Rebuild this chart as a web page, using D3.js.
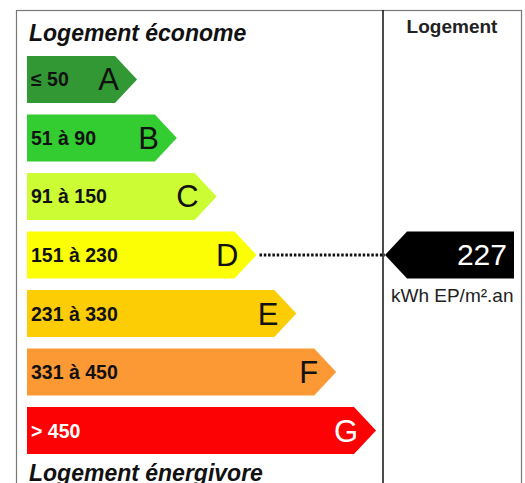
<!DOCTYPE html>
<html lang="fr">
<head>
    <meta charset="utf-8">
    <title>DPE</title>
    <script src="https://d3js.org/d3.v7.min.js"></script>
    <style>
        body { margin: 0; background: #fff; }
        svg text { font-family: "Liberation Sans", Arial, sans-serif; }
    </style>
</head>
<body>
<div id="chart"></div>
<script>
    // Energy classes, their ranges and colours
    const classes = ["A", "B", "C", "D", "E", "F", "G"];
    const ranges = ["≤ 50", "51 à 90", "91 à 150", "151 à 230", "231 à 330", "331 à 450", "> 450"];
    const upperBounds = [50, 90, 150, 230, 330, 450, Infinity];
    const colors = ["#319834", "#33cc31", "#ccfc34", "#fcfe06", "#fccc05", "#fc9935", "#fc0205"];
    const textColors = ["#111", "#111", "#111", "#111", "#111", "#111", "#fff"];

    // Dwelling value
    const value = 227;
    const unit = "kWh EP/m².an";

    const width = 525, height = 483;

    const svg = d3.select("#chart")
        .append("svg")
        .attr("width", width)
        .attr("height", height);

    // y band per class
    const y = d3.scaleBand()
        .domain(classes)
        .range([56, 454])
        .paddingInner(0.197)
        .paddingOuter(0);

    // x position of the arrow tip per class index
    const x = d3.scaleLinear()
        .domain([0, classes.length - 1])
        .range([137, 376]);

    const left = 27, head = 22;

    // frame
    svg.append("rect")
        .attr("x", 16.5).attr("y", 10.5)
        .attr("width", 505).attr("height", 520)
        .attr("fill", "none")
        .attr("stroke", "#777")
        .attr("stroke-width", 1.2);

    svg.append("line")
        .attr("x1", 383).attr("x2", 383)
        .attr("y1", 10).attr("y2", height)
        .attr("stroke", "#111")
        .attr("stroke-width", 1.5);

    // titles
    svg.append("text")
        .attr("x", 29).attr("y", 41)
        .attr("font-size", 23)
        .attr("font-weight", "bold")
        .attr("font-style", "italic")
        .attr("fill", "#111")
        .text("Logement économe");

    svg.append("text")
        .attr("x", 29).attr("y", y("G") + y.bandwidth() + 27)
        .attr("font-size", 23)
        .attr("font-weight", "bold")
        .attr("font-style", "italic")
        .attr("fill", "#111")
        .text("Logement énergivore");

    svg.append("text")
        .attr("x", 452).attr("y", 33)
        .attr("text-anchor", "middle")
        .attr("font-size", 19)
        .attr("font-weight", "bold")
        .attr("fill", "#222")
        .text("Logement");

    const arrowPath = (x0, tip, top, h) => {
        const mid = top + h / 2;
        return `M${x0},${top}H${tip - head}L${tip},${mid}L${tip - head},${top + h}H${x0}Z`;
    };

    const bars = svg.append("g")
        .selectAll("g")
        .data(classes)
        .join("g");

    bars.append("path")
        .attr("d", (d, i) => arrowPath(left, x(i), y(d), y.bandwidth()))
        .attr("fill", (d, i) => colors[i]);

    bars.append("text")
        .attr("x", 31)
        .attr("y", d => y(d) + y.bandwidth() / 2 + 7)
        .attr("font-size", 19.5)
        .attr("font-weight", "bold")
        .attr("fill", (d, i) => textColors[i])
        .text((d, i) => ranges[i]);

    bars.append("text")
        .attr("x", (d, i) => x(i) - 18)
        .attr("y", d => y(d) + y.bandwidth() / 2 + 11)
        .attr("text-anchor", "end")
        .attr("font-size", 31)
        .attr("fill", (d, i) => textColors[i])
        .text(d => d);

    // class of the dwelling
    const idx = upperBounds.findIndex(b => value <= b);
    const cls = classes[idx];
    const cy = y(cls) + y.bandwidth() / 2;
    const valTip = 385;

    svg.append("line")
        .attr("x1", x(idx) + 3).attr("x2", valTip)
        .attr("y1", cy).attr("y2", cy)
        .attr("stroke", "#111")
        .attr("stroke-width", 3)
        .attr("stroke-dasharray", "2.5,1.8");

    svg.append("path")
        .attr("d", `M${valTip},${cy}L${valTip + head},${y(cls)}H514V${y(cls) + y.bandwidth()}H${valTip + head}Z`)
        .attr("fill", "#000");

    svg.append("text")
        .attr("x", 507).attr("y", cy + 10)
        .attr("text-anchor", "end")
        .attr("font-size", 30)
        .attr("fill", "#fff")
        .text(value);

    svg.append("text")
        .attr("x", 391).attr("y", y(cls) + y.bandwidth() + 24)
        .attr("font-size", 19)
        .attr("fill", "#222")
        .text(unit);
</script>
</body>
</html>
